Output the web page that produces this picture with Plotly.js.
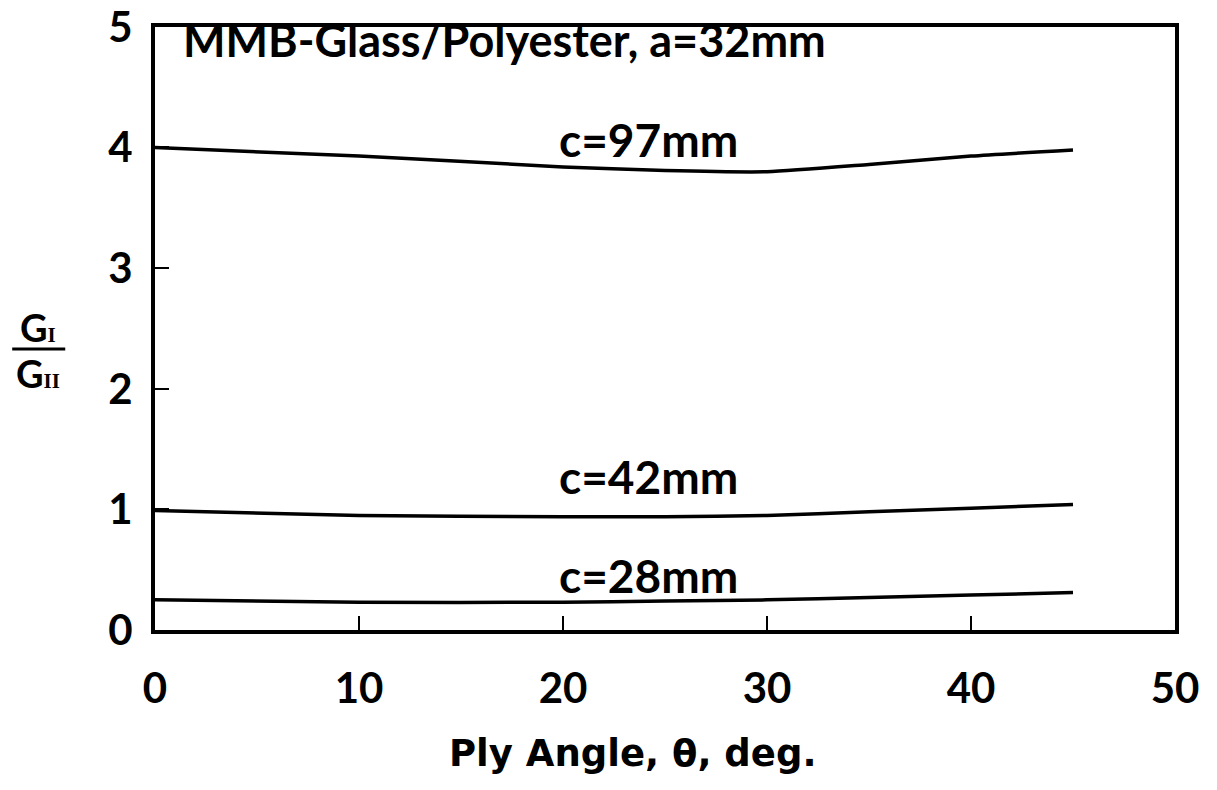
<!DOCTYPE html>
<html><head><meta charset="utf-8">
<script src="https://cdn.plot.ly/plotly-3.0.1.min.js"></script>
<style>body{margin:0;background:#fff}#plot{width:1217px;height:790px}</style>
</head><body><div id="plot"></div>
<script>
const plyAngle = [0, 10, 20, 25, 30, 35, 40, 45];
const c97 = [4.0, 3.93, 3.84, 3.81, 3.8, 3.86, 3.93, 3.98];
const c42 = [0.99, 0.95, 0.94, 0.94, 0.95, 0.98, 1.01, 1.04];
const c28 = [0.25, 0.23, 0.23, 0.24, 0.25, 0.27, 0.29, 0.31];
const seriesNames = ["c=97mm", "c=42mm", "c=28mm"];
const xTicks = [0, 10, 20, 30, 40, 50];
const yTicks = [0, 1, 2, 3, 4, 5];

const F = "Lato, 'DejaVu Sans', sans-serif";
const FD = "'DejaVu Sans', sans-serif";
const lineStyle = {color: "#000", width: 3.5, shape: "spline", smoothing: 0.6};
const traces = [c97, c42, c28].map((ys, i) => ({
  x: plyAngle, y: ys, type: "scatter", mode: "lines", name: seriesNames[i],
  line: lineStyle, showlegend: false, hoverinfo: "skip"
}));

const subStyle = "font-family:'Liberation Serif',serif;font-size:21px";

const layout = {
  width: 1217, height: 790,
  margin: {l: 155, r: 42, t: 27, b: 160},
  paper_bgcolor: "#fff", plot_bgcolor: "#fff",
  font: {family: F, color: "#000", size: 40, weight: 700},
  xaxis: {
    range: [0, 50], tickvals: xTicks, ticktext: xTicks.map(String),
    showline: true, mirror: true, linecolor: "#000", linewidth: 4,
    ticks: "inside", ticklen: 14, tickwidth: 2.5, tickcolor: "#000",
    ticklabelstandoff: 19,
    showgrid: false, zeroline: false,
    tickfont: {family: F, size: 42, weight: 700}
  },
  yaxis: {
    range: [0, 5], tickvals: yTicks, ticktext: yTicks.map(String),
    showline: true, mirror: true, linecolor: "#000", linewidth: 4,
    ticks: "inside", ticklen: 14, tickwidth: 2.5, tickcolor: "#000",
    ticklabelstandoff: 10,
    showgrid: false, zeroline: false,
    tickfont: {family: F, size: 42, weight: 700}
  },
  annotations: [
    {xref: "paper", yref: "paper", x: 0.025, y: 0.978, xanchor: "left", yanchor: "middle",
     text: "MMB-Glass/Polyester, a=32mm", showarrow: false, font: {family: F, size: 45, weight: 700}},
    {xref: "x", yref: "y", x: 24.2, y: 4.07, text: seriesNames[0], showarrow: false,
     yanchor: "middle", font: {family: F, size: 46, weight: 700}},
    {xref: "x", yref: "y", x: 24.2, y: 1.27, text: seriesNames[1], showarrow: false,
     yanchor: "middle", font: {family: F, size: 46, weight: 700}},
    {xref: "x", yref: "y", x: 24.2, y: 0.45, text: seriesNames[2], showarrow: false,
     yanchor: "middle", font: {family: F, size: 46, weight: 700}},
    {xref: "paper", yref: "paper", x: 0.468, y: -0.204, xanchor: "center", yanchor: "middle",
     text: "Ply Angle, θ, deg.", showarrow: false, font: {family: FD, size: 37, weight: 700}},
    {xref: "paper", yref: "paper", x: -0.115, y: 0.503, xanchor: "center", yanchor: "middle",
     text: "G<span style=\"" + subStyle + "\">I</span>", showarrow: false, font: {family: F, size: 38, weight: 700}},
    {xref: "paper", yref: "paper", x: -0.115, y: 0.426, xanchor: "center", yanchor: "middle",
     text: "G<span style=\"" + subStyle + "\">II</span>", showarrow: false, font: {family: F, size: 38, weight: 700}}
  ],
  shapes: [
    {type: "line", xref: "paper", yref: "paper", x0: -0.14, x1: -0.088, y0: 0.466, y1: 0.466,
     line: {color: "#000", width: 3}}
  ]
};

Plotly.newPlot("plot", traces, layout, {staticPlot: true, displayModeBar: false});
</script></body></html>
